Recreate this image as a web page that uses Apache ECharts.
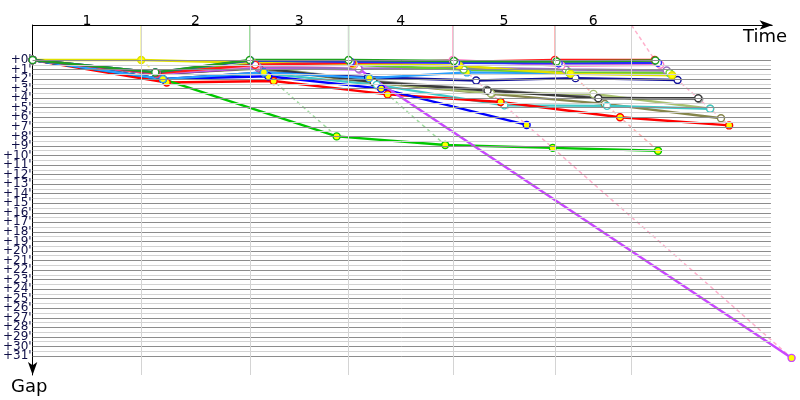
<!DOCTYPE html>
<html><head><meta charset="utf-8">
<script src="https://cdn.jsdelivr.net/npm/echarts@6/dist/echarts.min.js"></script>
<style>html,body{margin:0;padding:0;background:#fff}#c{width:800px;height:400px}</style>
</head><body><div id="c"></div>
<script>
// ---- data ----
const stageLabels = ['1', '2', '3', '4', '5', '6'];
const stageMarks = [10.0, 20.0, 29.1, 38.7, 48.1, 55.15];      // stage separator times (min)
const leaderTimes = [0, 10.0, 20.0, 29.1, 38.7, 48.1, 57.3];   // leader time at each checkpoint (min)
const gapTicks = [0,1,2,3,4,5,6,7,8,9,10,11,12,13,14,15,16,17,18,19,20,21,22,23,24,25,26,27,28,29,30,31];
const gapTickLabels = gapTicks.map(v => "+" + v + "'");

// gap (min) of each rider at checkpoints 0..6
const gapsGray       = [0, 1.3, 0.7, 2.2, 3.1, 3.9, 4.1];
const gapsOlive      = [0, 1.45, 0.9, 2.4, 3.55, 4.6, 6.1];
const gapsLightOlive = [0, 1.4, 0.7, 2.3, 3.5, 3.55, 5.1];
const gapsBlack      = [0, 1.5, 0.8, 2.3, 3.2, 4.0, 4.0];
const gapsCyan       = [0, 2.0, 1.4, 2.6, 4.75, 4.8, 5.1];
const gapsRed2       = [0, 2.35, 2.2, 3.6, 4.4, 6.0, 6.85];
const gapsBlue       = [0, 2.0, 1.7, 3.0, 6.8];
const gapsGreenBot   = [0, 2.0, 8.0, 8.9, 9.2, 9.5];
const gapsMagenta    = [0, 1.45, 0.8, 1.0, 31.2];
const gapsNavy       = [0, 2.0, 1.3, 1.8, 2.15, 1.9, 2.1];
const gapsSky        = [0, 2.0, 1.3, 1.9, 1.3, 1.4, 1.5];
const gapsPurple     = [0, 1.4, 0.7, 0.9, 0.8, 1.0, 1.1];
const gapsLime       = [0, 1.3, 0.4, 0.5, 1.0, 1.3, 1.36];
const gapsPink       = [0, 1.4, 0.6, 0.5, 0, 0.6, 0.5];
const gapsYellow     = [0, 0, 0.3, 0.4, 0.6, 1.45, 1.6];
const gapsRedTop     = [0, 1.4, 0.5, 0.3, 0.2, 0, 0];
const gapsBlueTop    = [0, 1.3, 0.05, 0.2, 0.3, 0.35, 0.3];
const gapsGreenTop   = [0, 1.3, 0, 0, 0.1, 0.15, 0.05];

const riderGaps   = [gapsGray, gapsOlive, gapsLightOlive, gapsBlack, gapsCyan, gapsRed2, gapsBlue, gapsGreenBot,
                     gapsMagenta, gapsNavy, gapsSky, gapsPurple, gapsLime, gapsPink, gapsYellow, gapsRedTop, gapsBlueTop, gapsGreenTop];
const riderColors = ['#a0a0a0', '#85854a', '#a8c070', '#3a3a3a', '#40c8c8', '#ff0000', '#0000ff', '#00c800',
                     '#c848ff', '#10109a', '#2aa0ff', '#9a70c0', '#66cc33', '#ff80c8', '#e0e000', '#ff1a1a', '#2a2aff', '#1fa01f'];
const riderFills  = ['#ffffff', '#ffffff', '#ffffff', '#ffffff', '#ffffff', '#ffff00', '#ffff00', '#ffff00',
                     '#ffff00', '#ffffff', '#ffff00', '#ffffff', '#ffffff', '#ffffff', '#ffff00', '#ffffff', '#ffffff', '#ffffff'];
const leaderLineColors = ['#eeee70', '#9ddd9d', '#9ddd9d', '#ffb0cc', '#ffb0b0', '#ffb0cc'];

// ---- chart ----
const Y_MIN = -3.666, Y_MAX = 32.99;
const X_MAX = 70.4;        // plot extends to the right edge so late points are not clipped
const X_GRID_END = 68.0;   // horizontal grid lines stop here
const X_AXIS_END = 68.15;  // time axis line end (arrow)
const chart = echarts.init(document.getElementById('c'), null, {renderer: 'canvas'});

const stageMid = stageMarks.map((m, i) => ((i === 0 ? 0 : stageMarks[i - 1]) + m) / 2);
const evenTicks = gapTicks.filter((v, i) => i % 2 === 0);
const oddTicks = gapTicks.filter((v, i) => i % 2 === 1);

const gridLineData = [];
gapTicks.forEach(v => {
  gridLineData.push([{coord: [0, v], lineStyle: {color: '#8c8c8c', width: 1, type: 'solid'}}, {coord: [X_GRID_END, v]}]);
  if (v < gapTicks[gapTicks.length - 1]) {
    gridLineData.push([{coord: [0, v + 0.5], lineStyle: {color: '#d2d2d2', width: 1, type: 'solid'}}, {coord: [X_GRID_END, v + 0.5]}]);
  }
});

const series = [];
series.push({
  type: 'line', data: [], silent: true, z: 1,
  markLine: {silent: true, symbol: ['none', 'none'], label: {show: false}, animation: false, data: gridLineData}
});
series.push({
  type: 'line', data: [], silent: true, z: 1,
  markLine: {silent: true, symbol: ['none', 'none'], label: {show: false}, animation: false,
    lineStyle: {color: '#d4d4d4', width: 1, type: 'solid'},
    data: stageMarks.map(m => ({xAxis: m}))}
});
// time axis line with arrow
series.push({
  type: 'line', data: [], silent: true, z: 5,
  markLine: {silent: true, symbol: ['none', 'arrow'], symbolSize: [7, 13], label: {show: false}, animation: false,
    lineStyle: {color: '#000', width: 1, type: 'solid'},
    data: [[{coord: [0, Y_MIN]}, {coord: [X_AXIS_END, Y_MIN]}]]}
});

for (let k = 1; k <= 6; k++) {
  let gmax = 0;
  riderGaps.forEach(g => { if (g.length > k && g[k] > gmax) gmax = g[k]; });
  const vertical = Math.abs(stageMarks[k - 1] - leaderTimes[k]) < 0.5;
  series.push({
    type: 'line', silent: true, symbol: 'none', z: 2,
    lineStyle: {color: leaderLineColors[k - 1], width: 1.5, type: vertical ? 'solid' : [4, 3]},
    data: [[stageMarks[k - 1], Y_MIN], [leaderTimes[k], 0]]
  });
  series.push({
    type: 'line', silent: true, symbol: 'none', z: 2,
    lineStyle: {color: leaderLineColors[k - 1], width: 1.5, type: [4, 3]},
    data: [[leaderTimes[k], 0], [leaderTimes[k] + gmax, gmax]]
  });
}

riderGaps.forEach((g, i) => {
  series.push({
    type: 'line', z: 3, symbol: 'circle', symbolSize: 7,
    lineStyle: {color: riderColors[i], width: 2.4},
    itemStyle: {color: riderFills[i], borderColor: riderColors[i], borderWidth: 1.4},
    data: g.map((v, k) => [leaderTimes[k] + v, v])
  });
});

function gapLabel(v) {
  const i = gapTicks.indexOf(Math.round(v));
  return i >= 0 ? gapTickLabels[i] : '';
}
const yLabelStyle = {interval: 0, margin: 1, hideOverlap: false, showMinLabel: true, showMaxLabel: true,
  formatter: gapLabel, color: '#101048', fontFamily: 'DejaVu Sans', fontSize: 12};

chart.setOption({
  animation: false,
  backgroundColor: '#ffffff',
  grid: {left: 31, right: 3, top: 25, bottom: 25, containLabel: false},
  xAxis: {
    type: 'value', position: 'top', min: 0, max: X_MAX,
    axisLine: {show: false, onZero: false},
    axisTick: {show: false},
    splitLine: {show: false},
    axisLabel: {
      customValues: stageMid, interval: 0, margin: -3, hideOverlap: false, showMinLabel: true, showMaxLabel: true,
      formatter: function (v) {
        let best = 0;
        stageMid.forEach((m, i) => { if (Math.abs(m - v) < Math.abs(stageMid[best] - v)) best = i; });
        return stageLabels[best];
      },
      color: '#000', fontFamily: 'DejaVu Sans', fontSize: 14
    }
  },
  yAxis: [
    {
      type: 'value', position: 'left', inverse: true, min: Y_MIN, max: Y_MAX,
      axisLine: {show: true, onZero: false, lineStyle: {color: '#000', width: 1}, symbol: ['arrow', 'none'], symbolSize: [7, 13], symbolOffset: [0, 0]},
      axisTick: {show: false},
      splitLine: {show: false},
      axisLabel: Object.assign({customValues: evenTicks}, yLabelStyle)
    },
    {
      type: 'value', position: 'left', offset: 0, inverse: true, min: Y_MIN, max: Y_MAX,
      axisLine: {show: false, onZero: false},
      axisTick: {show: false},
      splitLine: {show: false},
      axisLabel: Object.assign({customValues: oddTicks}, yLabelStyle)
    }
  ],
  graphic: [
    {type: 'text', left: 743, top: 28, style: {text: 'Time', font: '18px "DejaVu Sans"', fill: '#000'}},
    {type: 'text', left: 11, top: 378, style: {text: 'Gap', font: '18px "DejaVu Sans"', fill: '#000'}}
  ],
  series: series
});
</script>
</body></html>
